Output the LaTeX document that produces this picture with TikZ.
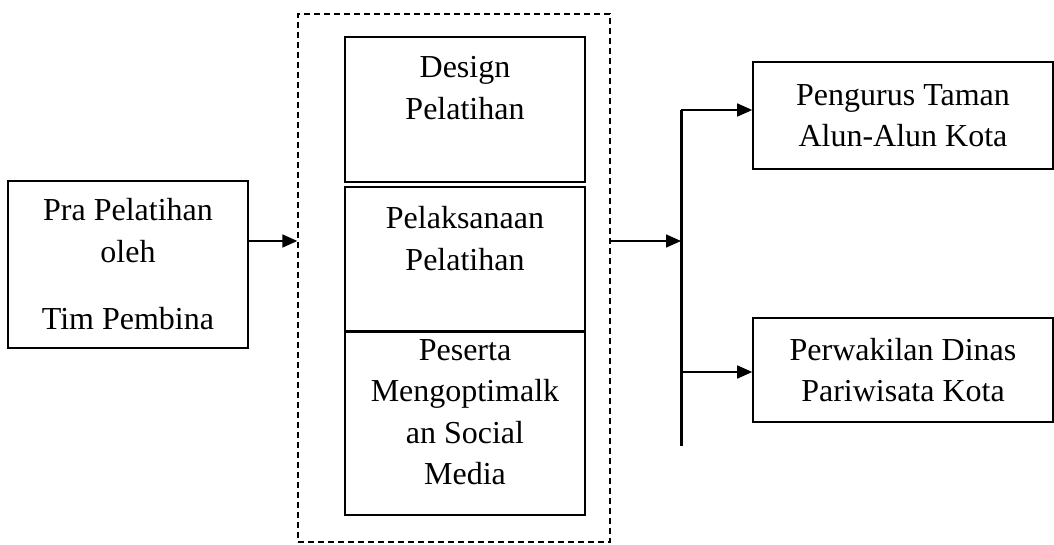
\documentclass[tikz,border=0pt]{standalone}
\usepackage{fontspec}
\setmainfont{Liberation Serif}
\usetikzlibrary{arrows.meta,positioning}
\begin{document}
\begin{tikzpicture}[x=1pt,y=-1pt,
  % boxes: plain rectangles, text centred; inner boxes carry their text at the top
  blk/.style={draw, line width=1.6pt, inner sep=0pt, align=center,
              font=\fontsize{32}{41.5}\selectfont},
  toptxt/.style={anchor=north, align=center, inner sep=0pt,
                 font=\fontsize{32}{41.5}\selectfont},
  grp/.style={draw, line width=1.4pt, dash pattern=on 6pt off 4pt, inner sep=0pt}, % training stage
  arr/.style={-{Triangle[length=15pt,width=13pt]}, line width=1.6pt},
  bus/.style={line width=3pt},                                                  % distribution line
  ]
  \useasboundingbox (0,0) rectangle (1054,545);
  % ---- input --------------------------------------------------------------------
  \node[blk, minimum width=240pt, minimum height=167pt] (pra) at (128,264.5)
    {Pra Pelatihan\\oleh\\[26pt]Tim Pembina};
  % ---- training stage (dashed group, three stacked boxes) -------------------------
  \node[grp, minimum width=312pt, minimum height=528pt] (train) at (454,278) {};
  \node[blk, minimum width=240pt, minimum height=145pt,
        label={[toptxt, yshift=-20pt]north:{Design\\Pelatihan}}] (design) at (465,109.5) {};
  \node[blk, minimum width=240pt, minimum height=144pt,
        label={[toptxt, yshift=-20pt]north:{Pelaksanaan\\Pelatihan}}] (exec) at (465,259) {};
  \node[blk, minimum width=240pt, minimum height=183pt,
        label={[toptxt, yshift=-8pt]north:{Peserta\\Mengoptimalk\\an Social\\Media}}] (peserta) at (465,423.5) {};
  % ---- targets ------------------------------------------------------------------
  \node[blk, minimum width=300pt, minimum height=107pt] (taman) at (903,115.5)
    {Pengurus Taman\\Alun-Alun Kota};
  \node[blk, minimum width=300pt, minimum height=104pt] (dinas) at (903,370)
    {Perwakilan Dinas\\Pariwisata Kota};
  % ---- connectors ---------------------------------------------------------------
  \coordinate (in)     at ([yshift=23.5pt]pra.east);
  \coordinate (out)    at (in -| train.east);
  \coordinate (bustop) at (681,110);
  \coordinate (busmid) at (681,372);
  \coordinate (busbot) at (681,446);
  \draw[arr] (in) -- (in -| train.west);
  \draw[arr] (out) -- (out -| bustop);
  \draw[bus] (bustop) -- (busbot);
  \draw[arr] (bustop) -- (bustop -| taman.west);
  \draw[arr] (busmid) -- (busmid -| dinas.west);
\end{tikzpicture}
\end{document}
